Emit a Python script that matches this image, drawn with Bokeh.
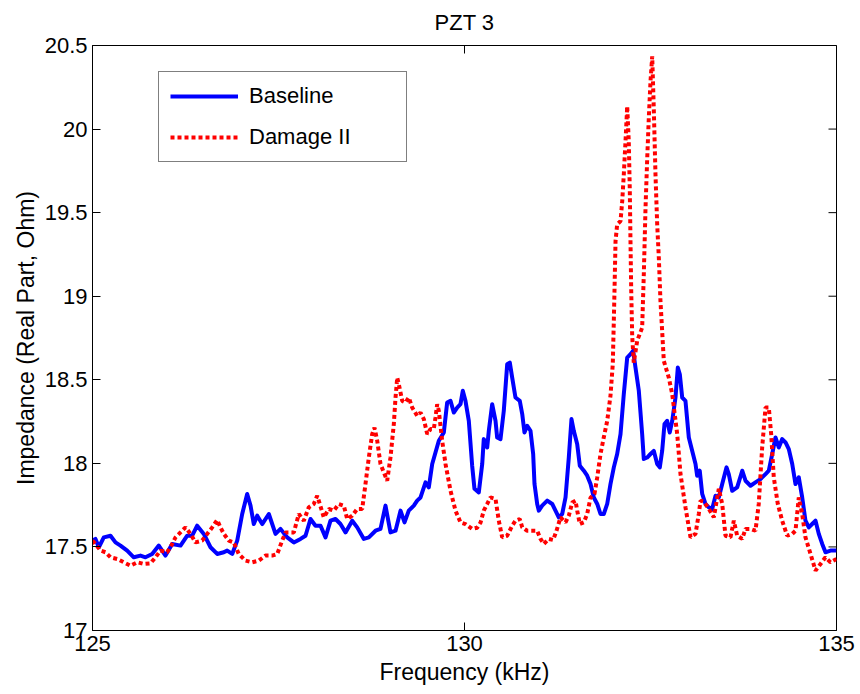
import math

from bokeh.plotting import figure
from bokeh.models import (ColumnDataSource, Range1d, FixedTicker,
                          Legend, LegendItem)
from bokeh.embed import file_html
from bokeh.resources import INLINE

# Frequency sweep (kHz) and real-part impedance (Ohm) for PZT 3
base_freq = [125.000, 125.040, 125.085, 125.152, 125.242, 125.309, 125.376, 125.466, 125.555, 125.645,
             125.712, 125.802, 125.891, 125.981, 126.071, 126.183, 126.273, 126.340, 126.407, 126.496,
             126.586, 126.676, 126.765, 126.810, 126.878, 126.945, 127.012, 127.079, 127.124, 127.168,
             127.214, 127.281, 127.370, 127.460, 127.527, 127.617, 127.706, 127.796, 127.863, 127.930,
             127.997, 128.065, 128.132, 128.199, 128.266, 128.333, 128.401, 128.491, 128.558, 128.647,
             128.714, 128.804, 128.871, 128.938, 129.005, 129.073, 129.140, 129.194, 129.251, 129.319,
             129.364, 129.409, 129.476, 129.520, 129.566, 129.610, 129.655, 129.722, 129.767, 129.812,
             129.856, 129.902, 129.946, 129.977, 130.013, 130.058, 130.103, 130.134, 130.192, 130.238,
             130.259, 130.305, 130.327, 130.372, 130.417, 130.439, 130.484, 130.528, 130.574, 130.609,
             130.641, 130.685, 130.743, 130.776, 130.806, 130.843, 130.887, 130.923, 130.941, 130.977,
             130.999, 131.044, 131.112, 131.179, 131.223, 131.267, 131.313, 131.358, 131.402, 131.438,
             131.469, 131.515, 131.550, 131.604, 131.649, 131.694, 131.738, 131.784, 131.828, 131.872,
             131.918, 131.962, 132.007, 132.052, 132.097, 132.141, 132.187, 132.231, 132.267, 132.298,
             132.343, 132.388, 132.410, 132.455, 132.500, 132.544, 132.590, 132.625, 132.657, 132.688,
             132.724, 132.759, 132.792, 132.836, 132.867, 132.894, 132.926, 132.970, 133.015, 133.060,
             133.105, 133.127, 133.162, 133.195, 133.239, 133.284, 133.329, 133.374, 133.418, 133.464,
             133.522, 133.552, 133.598, 133.665, 133.733, 133.777, 133.844, 133.911, 133.978, 134.046,
             134.090, 134.136, 134.180, 134.224, 134.270, 134.315, 134.359, 134.405, 134.449, 134.493,
             134.539, 134.583, 134.628, 134.673, 134.718, 134.762, 134.808, 134.852, 134.919, 135.000]
base_imp = [17.538, 17.548, 17.498, 17.557, 17.567, 17.527, 17.508, 17.478, 17.438, 17.448,
            17.438, 17.458, 17.508, 17.448, 17.518, 17.508, 17.567, 17.567, 17.627, 17.578,
            17.498, 17.458, 17.468, 17.478, 17.458, 17.538, 17.697, 17.817, 17.747, 17.637,
            17.687, 17.637, 17.697, 17.578, 17.608, 17.557, 17.527, 17.548, 17.567, 17.667,
            17.627, 17.627, 17.557, 17.657, 17.667, 17.637, 17.587, 17.657, 17.617, 17.548,
            17.557, 17.597, 17.608, 17.747, 17.587, 17.597, 17.717, 17.647, 17.717, 17.747,
            17.777, 17.796, 17.886, 17.856, 17.996, 18.065, 18.135, 18.185, 18.364, 18.374,
            18.304, 18.334, 18.354, 18.434, 18.374, 18.254, 17.986, 17.848, 17.826, 17.996,
            18.145, 18.095, 18.195, 18.354, 18.254, 18.155, 18.145, 18.314, 18.593, 18.603,
            18.513, 18.394, 18.374, 18.295, 18.185, 18.225, 18.195, 18.056, 17.876, 17.757,
            17.717, 17.747, 17.777, 17.757, 17.717, 17.677, 17.697, 17.796, 18.035, 18.265,
            18.195, 18.115, 17.986, 17.956, 17.926, 17.876, 17.796, 17.757, 17.697, 17.697,
            17.757, 17.876, 17.976, 18.056, 18.175, 18.414, 18.633, 18.653, 18.673, 18.573,
            18.434, 18.175, 18.026, 18.035, 18.056, 18.075, 17.996, 17.976, 18.075, 18.235,
            18.254, 18.185, 18.254, 18.394, 18.573, 18.533, 18.394, 18.374, 18.155, 18.075,
            17.996, 17.926, 17.956, 17.817, 17.757, 17.737, 17.727, 17.806, 17.796, 17.876,
            17.976, 17.936, 17.836, 17.856, 17.956, 17.896, 17.866, 17.886, 17.906, 17.936,
            17.956, 18.056, 18.155, 18.095, 18.145, 18.125, 18.085, 17.996, 17.876, 17.916,
            17.796, 17.657, 17.617, 17.637, 17.657, 17.578, 17.518, 17.468, 17.478, 17.478]

dmg_freq = [125.000, 125.040, 125.108, 125.175, 125.242, 125.332, 125.421, 125.511, 125.601, 125.690,
            125.780, 125.847, 125.914, 126.004, 126.071, 126.116, 126.183, 126.250, 126.317, 126.384,
            126.474, 126.542, 126.609, 126.676, 126.720, 126.765, 126.832, 126.899, 126.966, 127.056,
            127.147, 127.235, 127.325, 127.415, 127.483, 127.550, 127.594, 127.706, 127.773, 127.840,
            127.907, 127.974, 128.020, 128.055, 128.109, 128.176, 128.243, 128.310, 128.378, 128.423,
            128.491, 128.558, 128.625, 128.669, 128.714, 128.759, 128.790, 128.827, 128.871, 128.915,
            128.961, 129.005, 129.050, 129.073, 129.096, 129.117, 129.163, 129.207, 129.251, 129.297,
            129.364, 129.409, 129.453, 129.499, 129.543, 129.587, 129.610, 129.633, 129.655, 129.700,
            129.745, 129.812, 129.879, 129.946, 130.013, 130.103, 130.171, 130.215, 130.259, 130.305,
            130.349, 130.417, 130.461, 130.507, 130.574, 130.641, 130.685, 130.743, 130.776, 130.843,
            130.910, 130.977, 131.022, 131.066, 131.133, 131.192, 131.237, 131.290, 131.358, 131.402,
            131.448, 131.492, 131.515, 131.550, 131.604, 131.649, 131.694, 131.747, 131.784, 131.828,
            131.872, 131.918, 131.962, 131.993, 132.007, 132.016, 132.030, 132.052, 132.097, 132.120,
            132.141, 132.164, 132.187, 132.208, 132.222, 132.231, 132.241, 132.254, 132.275, 132.321,
            132.388, 132.410, 132.433, 132.456, 132.477, 132.500, 132.523, 132.544, 132.567, 132.590,
            132.612, 132.634, 132.679, 132.746, 132.792, 132.859, 132.903, 132.970, 133.038, 133.105,
            133.149, 133.172, 133.216, 133.283, 133.351, 133.418, 133.464, 133.508, 133.575, 133.620,
            133.665, 133.733, 133.777, 133.844, 133.911, 133.955, 134.001, 134.046, 134.090, 134.122,
            134.157, 134.211, 134.270, 134.337, 134.405, 134.449, 134.493, 134.539, 134.583, 134.651,
            134.718, 134.785, 134.852, 134.919, 135.000]
dmg_imp = [17.538, 17.518, 17.478, 17.468, 17.438, 17.428, 17.408, 17.388, 17.408, 17.398,
           17.402, 17.438, 17.478, 17.468, 17.518, 17.557, 17.587, 17.617, 17.578, 17.527,
           17.538, 17.578, 17.617, 17.661, 17.617, 17.578, 17.538, 17.527, 17.458, 17.418,
           17.408, 17.418, 17.448, 17.448, 17.458, 17.538, 17.587, 17.587, 17.697, 17.657,
           17.737, 17.757, 17.806, 17.757, 17.677, 17.727, 17.717, 17.757, 17.747, 17.667,
           17.687, 17.727, 17.727, 17.876, 18.035, 18.175, 18.214, 18.135, 17.996, 17.946,
           17.896, 18.035, 18.235, 18.394, 18.513, 18.474, 18.374, 18.364, 18.394, 18.334,
           18.284, 18.304, 18.265, 18.175, 18.205, 18.205, 18.274, 18.354, 18.314, 18.135,
           17.996, 17.836, 17.717, 17.647, 17.637, 17.608, 17.615, 17.645, 17.717, 17.757,
           17.796, 17.787, 17.657, 17.557, 17.567, 17.627, 17.657, 17.667, 17.617, 17.597,
           17.597, 17.597, 17.548, 17.518, 17.548, 17.542, 17.597, 17.677, 17.647, 17.687,
           17.766, 17.777, 17.717, 17.637, 17.647, 17.697, 17.795, 17.817, 17.916, 18.056,
           18.155, 18.254, 18.404, 18.593, 18.852, 19.031, 19.330, 19.430, 19.449, 19.569,
           19.728, 19.927, 20.136, 19.927, 19.628, 19.330, 19.031, 18.762, 18.603, 18.733,
           18.812, 19.131, 19.529, 19.827, 20.066, 20.286, 20.435, 20.126, 19.728, 19.430,
           19.230, 18.971, 18.613, 18.513, 18.414, 18.175, 17.936, 17.737, 17.557, 17.578,
           17.697, 17.777, 17.771, 17.729, 17.677, 17.848, 17.757, 17.567, 17.557, 17.657,
           17.567, 17.548, 17.608, 17.608, 17.597, 17.757, 18.095, 18.334, 18.334, 18.175,
           17.916, 17.757, 17.657, 17.567, 17.578, 17.597, 17.796, 17.697, 17.557, 17.458,
           17.358, 17.398, 17.438, 17.408, 17.428]

x_ticks = [125, 130, 135]
x_tick_labels = ["125", "130", "135"]
y_ticks = [17, 17.5, 18, 18.5, 19, 19.5, 20, 20.5]
y_tick_labels = ["17", "17.5", "18", "18.5", "19", "19.5", "20", "20.5"]
series_names = ["Baseline", "Damage II"]
title_text = "PZT 3"

FONT = "Liberation Sans"
TICK_LEN = 8  # inward tick length, px

x_lo, x_hi = 125, 135
y_lo, y_hi = 17, 20.5

p = figure(width=860, height=694, output_backend="svg", toolbar_location=None,
           x_range=Range1d(x_lo, x_hi), y_range=Range1d(y_lo, y_hi),
           min_border_left=92, min_border_right=24,
           min_border_top=44, min_border_bottom=64,
           title=title_text, background_fill_color="white", border_fill_color="white")

p.title.align = "center"
p.title.vertical_align = "top"
p.title.standoff = 18
p.title.text_font = FONT
p.title.text_font_size = "22px"
p.title.text_font_style = "normal"
p.title.text_color = "black"

p.xgrid.visible = False
p.ygrid.visible = False
p.outline_line_color = "black"
p.outline_line_width = 1


def style_axis(ax, ticks, labels):
    """Box-style axis: black line, inward ticks, plain-number labels."""
    ax.ticker = FixedTicker(ticks=ticks)
    ax.major_label_overrides = dict(zip(ticks, labels))
    ax.axis_line_color = "black"
    ax.axis_line_width = 1
    ax.major_tick_line_color = "black"
    ax.major_tick_in = TICK_LEN
    ax.major_tick_out = 0
    ax.minor_tick_line_color = None
    ax.major_label_text_font = FONT
    ax.major_label_text_color = "black"
    ax.major_label_text_font_size = "22px"
    ax.major_label_standoff = 5
    ax.axis_label_text_font = FONT
    ax.axis_label_text_font_size = "23px"
    ax.axis_label_text_font_style = "normal"
    ax.axis_label_text_color = "black"


xaxis = p.xaxis[0]
yaxis = p.yaxis[0]
style_axis(xaxis, x_ticks, x_tick_labels)
style_axis(yaxis, y_ticks, y_tick_labels)
xaxis.axis_label = "Frequency (kHz)"
xaxis.axis_label_standoff = 5
yaxis.axis_label = "Impedance (Real Part, Ohm)"
yaxis.axis_label_standoff = 3

# Mirrored inward ticks on the top and right edges of the box: a dash marker
# centred on the edge, the outer half is clipped away by the frame.
top_ticks = ColumnDataSource(dict(x=x_ticks, y=[y_hi] * len(x_ticks)))
right_ticks = ColumnDataSource(dict(x=[x_hi] * len(y_ticks), y=y_ticks))
p.scatter("x", "y", source=top_ticks, marker="dash", size=2 * TICK_LEN,
          angle=math.pi / 2, line_color="black", line_width=1)
p.scatter("x", "y", source=right_ticks, marker="dash", size=2 * TICK_LEN,
          angle=0, line_color="black", line_width=1)

base_src = ColumnDataSource(dict(f=base_freq, z=base_imp))
dmg_src = ColumnDataSource(dict(f=dmg_freq, z=dmg_imp))

base_line = p.line("f", "z", source=base_src, line_color="#0000ff", line_width=4,
                   line_join="round")
dmg_line = p.line("f", "z", source=dmg_src, line_color="#ff0000", line_width=4,
                  line_dash="4 3")

legend = Legend(items=[LegendItem(label=series_names[0], renderers=[base_line]),
                       LegendItem(label=series_names[1], renderers=[dmg_line])],
                location=(66, 468), orientation="vertical")
legend.border_line_color = "black"
legend.border_line_width = 1
legend.background_fill_color = "white"
legend.background_fill_alpha = 1
legend.label_text_font = FONT
legend.label_text_font_size = "22px"
legend.label_text_color = "black"
legend.glyph_width = 68
legend.glyph_height = 20
legend.label_height = 20
legend.label_width = 146
legend.label_standoff = 11
legend.spacing = 15
legend.padding = 11
legend.margin = 0
p.add_layout(legend)

open("out.html", "w").write(file_html(p, INLINE))
